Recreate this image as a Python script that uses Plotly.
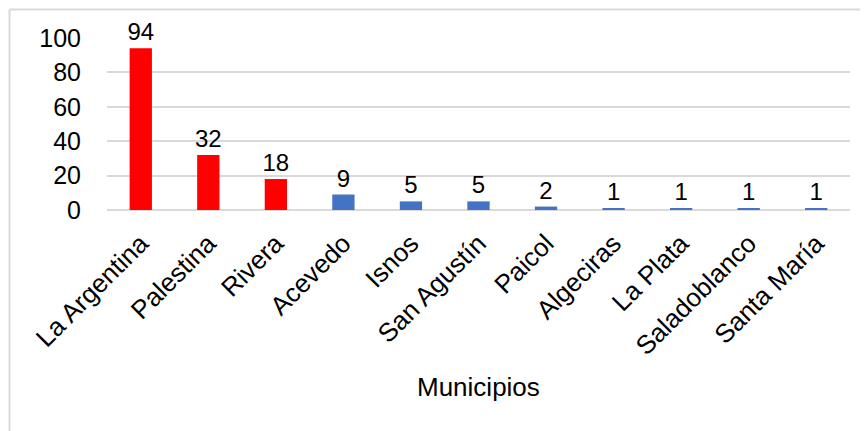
import plotly.graph_objects as go

municipios = ["La Argentina", "Palestina", "Rivera", "Acevedo", "Isnos", "San Agustín",
              "Paicol", "Algeciras", "La Plata", "Saladoblanco", "Santa María"]
valores = [94, 32, 18, 9, 5, 5, 2, 1, 1, 1, 1]
colores = ["#FF0000"] * 3 + ["#4472C4"] * 8

FONT = "Liberation Sans, Arial"

fig = go.Figure(go.Bar(
    x=municipios, y=valores, marker_color=colores, marker_line_width=0,
    text=valores, textposition="outside", cliponaxis=False, constraintext="none",
    textfont=dict(size=24, color="#000000", family=FONT),
))

# page body has an 8px default margin
OFF = 8
W, H = 860, 423
L, T = 107 - OFF, 38 - OFF
R = W - (850 - OFF)
B = H - (210 - OFF)
pw, ph = W - L - R, H - T - B

bx = (9.5 - OFF - L) / pw          # left border x (paper)
by = (ph + T - (9.5 - OFF)) / ph   # top border y (paper)

fig.update_layout(
    width=W, height=H,
    margin=dict(l=L, r=R, t=T, b=B, pad=0),
    paper_bgcolor="white", plot_bgcolor="white",
    font=dict(family=FONT, size=24, color="#000000"),
    bargap=0.67, showlegend=False,
    xaxis=dict(tickangle=-45, showgrid=False, showline=False, ticks="",
               tickfont=dict(size=26), automargin=False, ticklabelstandoff=12),
    yaxis=dict(range=[0, 100], tickvals=[0, 20, 40, 60, 80, 100],
               gridcolor="#D9D9D9", gridwidth=1.5, zeroline=True, zerolinecolor="#D9D9D9",
               zerolinewidth=1.5, showline=False, ticks="", ticklabelstandoff=25,
               tickfont=dict(size=25), automargin=False),
    annotations=[dict(text="Municipios", xref="paper", yref="paper",
                      x=(478 - OFF - L) / pw, y=-(387 - OFF - T - ph) / ph,
                      xanchor="center", yanchor="middle", showarrow=False,
                      font=dict(size=26, family=FONT, color="#000000"))],
    shapes=[
        dict(type="line", xref="paper", yref="paper", x0=bx, x1=bx,
             y0=by, y1=-(B + 10) / ph, line=dict(color="#D9D9D9", width=2), layer="below"),
        dict(type="line", xref="paper", yref="paper", x0=bx, x1=(pw + R + 10) / pw,
             y0=by, y1=by, line=dict(color="#D9D9D9", width=2), layer="below"),
    ],
)

fig.write_html("out.html")
